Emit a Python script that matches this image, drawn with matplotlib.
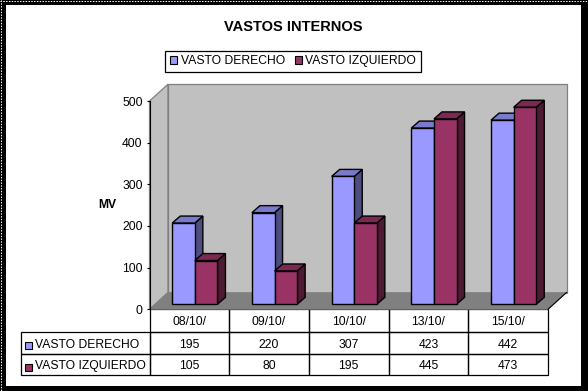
import matplotlib
matplotlib.use("Agg")
import matplotlib.pyplot as plt
from matplotlib.patches import Patch, Polygon, Rectangle
from matplotlib.transforms import Affine2D

plt.rcParams['font.family'] = ['Liberation Sans', 'DejaVu Sans']

# Data
title = "VASTOS INTERNOS"
y_label = "MV"
dates = ["08/10/", "09/10/", "10/10/", "13/10/", "15/10/"]
derecho = [195, 220, 307, 423, 442]
izquierdo = [105, 80, 195, 445, 473]
series_names = ["VASTO DERECHO", "VASTO IZQUIERDO"]
y_ticks = [0, 100, 200, 300, 400, 500]

W, H = 588, 391
FS = 8.7

# colours: front, top, side
blue = ("#9999FF", "#7A7ACC", "#4D4D80")
wine = ("#993366", "#7A2952", "#4D1A33")

fig = plt.figure(figsize=(W / 100, H / 100), dpi=100, facecolor="black")
# pixel coordinates, origin top left, for the frame and swatches
px = Affine2D().scale(1, -1).translate(0, H)

# frame
fig.add_artist(Rectangle((6, 5), 575, 381, transform=px, fc="white", ec="none", zorder=-1))
for xs, ys in [([0, W], [0.5, 0.5]), ([0.5, 0.5], [0, H]), ([587.5, 587.5], [0, H])]:
    fig.add_artist(plt.Line2D(xs, ys, transform=px, color="white", lw=0.72,
                              dashes=(1.4, 1.4)))

# axes covers the front plane of the chart
plot_h = 208.3
ax = fig.add_axes([149.5 / W, 1 - 309.3 / H, 398.5 / W, plot_h / H])
ax.set_xlim(0, 5)
ax.set_ylim(0, 500)
ax.patch.set_visible(False)
for s in ["top", "right", "bottom"]:
    ax.spines[s].set_visible(False)
ax.spines["left"].set_linewidth(0.8)
ax.set_xticks([])
ax.set_yticks(y_ticks)
ax.tick_params(axis="y", length=2, width=0.8, pad=3, labelsize=FS)

# sizes of the 3D effect in data units
ux = 398.5 / 5
uy = plot_h / 500
wall_dx, wall_dy = 18.5 / ux, 16.8 / uy
bar_dx, bar_dy = 8 / ux, 7 / uy
shift_x, shift_y = 5.5 / ux, 5 / uy
bar_w = 22.6 / ux
grey = "#808080"

# walls and floor
ax.add_patch(Polygon([(0, 0), (0, 500), (wall_dx, 500 + wall_dy), (wall_dx, wall_dy)],
                     fc="#C0C0C0", ec=grey, lw=0.9, clip_on=False, zorder=0))
ax.add_patch(Polygon([(wall_dx, wall_dy), (wall_dx, 500 + wall_dy),
                      (5 + wall_dx, 500 + wall_dy), (5 + wall_dx, wall_dy)],
                     fc="#C0C0C0", ec=grey, lw=0.9, clip_on=False, zorder=0))
ax.add_patch(Polygon([(0, 0), (wall_dx, wall_dy), (5 + wall_dx, wall_dy), (5, 0)],
                     fc=grey, ec=grey, lw=0.5, clip_on=False, zorder=1))
ax.plot([5, 5 + wall_dx], [0, wall_dy], color="black", lw=0.8, clip_on=False, zorder=2)


def bar3d(x0, v, cols, z):
    x0 = x0 + shift_x
    x1 = x0 + bar_w
    y0 = shift_y
    y1 = v + shift_y
    kw = dict(ec="black", lw=1.0, clip_on=False, joinstyle="miter", zorder=z)
    ax.add_patch(Polygon([(x1, y0), (x1, y1), (x1 + bar_dx, y1 + bar_dy), (x1 + bar_dx, y0 + bar_dy)],
                         fc=cols[2], **kw))
    ax.add_patch(Polygon([(x0, y1), (x1, y1), (x1 + bar_dx, y1 + bar_dy), (x0 + bar_dx, y1 + bar_dy)],
                         fc=cols[1], **kw))
    ax.add_patch(Rectangle((x0, y0), bar_w, v, fc=cols[0], **kw))


for i, (a, b) in enumerate(zip(derecho, izquierdo)):
    left = i + 0.5 - bar_w
    bar3d(left, a, blue, 3 + i * 2)
    bar3d(left + bar_w, b, wine, 4 + i * 2)

# table below the plot
cells = [[""] + dates,
         [series_names[0]] + [str(v) for v in derecho],
         [series_names[1]] + [str(v) for v in izquierdo]]
first_w = 129 / 398.5
col_w = 0.2
tb = ax.table(cellText=cells, colWidths=[first_w] + [col_w] * 5, cellLoc="center",
              bbox=[-first_w, -66 / plot_h, first_w + 1, 66 / plot_h])
tb.auto_set_font_size(False)
tb.set_fontsize(FS)
row_h = [23, 22, 21]
for (r, c), cell in tb.get_celld().items():
    cell.set_height(row_h[r] / plot_h)
    cell.set_linewidth(0.9)
    cell.set_facecolor("none")
    cell.set_clip_on(False)
    cell.get_text().set_va("center_baseline")
    if c == 0:
        cell.PAD = 0.112
        cell.get_text().set_ha("left")
tb[0, 0].visible_edges = ""

# swatches in the first table column
for y, cols in [(345, blue), (367, wine)]:
    fig.add_artist(Rectangle((25, y - 3.5), 6.5, 7, transform=px, fc=cols[0], ec="black", lw=0.8))

fig.text(293.5 / W, 1 - 27 / H, title, fontsize=10.5, fontweight="bold", ha="center", va="center")
fig.text(107 / W, 1 - 205.5 / H, y_label, fontsize=FS, fontweight="bold", ha="center", va="center")

handles = [Patch(fc=blue[0], ec="black", lw=0.8), Patch(fc=wine[0], ec="black", lw=0.8)]
fig.legend(handles, series_names, ncol=2, fontsize=FS, fancybox=False, framealpha=1,
           edgecolor="black", loc="center", bbox_to_anchor=(293 / W, 1 - 61.3 / H),
           handlelength=0.6, handleheight=0.6, handletextpad=0.3, columnspacing=0.8,
           borderpad=0.38, borderaxespad=0).get_frame().set_linewidth(0.9)

fig.savefig("out.png", dpi=100, facecolor=fig.get_facecolor())
